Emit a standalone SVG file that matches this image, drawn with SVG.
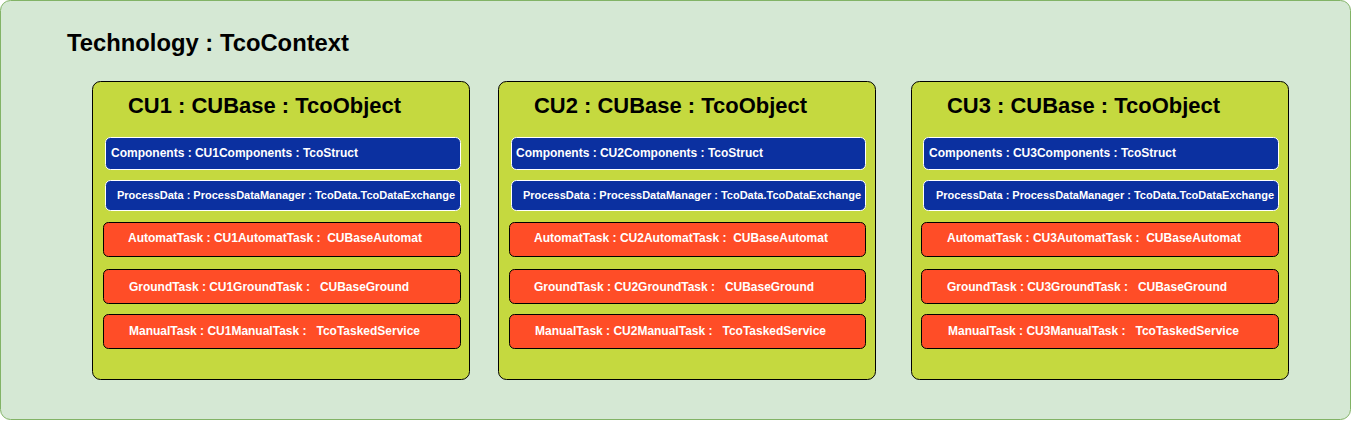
<svg xmlns="http://www.w3.org/2000/svg" width="1352" height="421" viewBox="0 0 1352 421">
<style>
text{font-family:"Liberation Sans",Arial,sans-serif;font-weight:bold;white-space:pre}
.outer{fill:#d5e8d4;stroke:#82b366;stroke-width:1}
.cu{fill:#c5d93f;stroke:#000;stroke-width:1}
.blue{fill:#0b30a0;stroke:#fff;stroke-width:1}
.red{fill:#ff4d27;stroke:#000;stroke-width:1}
.t1{font-size:24px;fill:#000}
.t2{font-size:22px;fill:#000}
.tb{font-size:12px;fill:#fff}
.tp{font-size:11px;fill:#fff}
.tr{font-size:12px;fill:#fff}
</style>
<g id="technology">
<rect class="outer" x="0.5" y="0.5" width="1350" height="419" rx="10"/>
<text class="t1" x="67" y="51" textLength="282" lengthAdjust="spacingAndGlyphs">Technology : TcoContext</text>
</g>
<g id="cu1">
<rect class="cu" x="92.5" y="81.5" width="377" height="298" rx="8"/>
<text class="t2" x="128" y="113" textLength="273" lengthAdjust="spacingAndGlyphs">CU1 : CUBase : TcoObject</text>
<g id="cu1-components"><rect class="blue" x="105.5" y="137.5" width="355" height="32" rx="5"/><text class="tb" x="111" y="157" textLength="247" lengthAdjust="spacingAndGlyphs">Components : CU1Components : TcoStruct</text></g>
<g id="cu1-processdata"><rect class="blue" x="105.5" y="180.5" width="355" height="30" rx="5"/><text class="tp" x="117" y="199" textLength="338" lengthAdjust="spacingAndGlyphs">ProcessData : ProcessDataManager : TcoData.TcoDataExchange</text></g>
<g id="cu1-automat"><rect class="red" x="103.5" y="222.5" width="357" height="34" rx="5"/><text class="tr" x="128" y="242" textLength="294" lengthAdjust="spacingAndGlyphs">AutomatTask : CU1AutomatTask :  CUBaseAutomat</text></g>
<g id="cu1-ground"><rect class="red" x="103.5" y="269.5" width="357" height="34" rx="5"/><text class="tr" x="129" y="291" textLength="280" lengthAdjust="spacingAndGlyphs">GroundTask : CU1GroundTask :   CUBaseGround</text></g>
<g id="cu1-manual"><rect class="red" x="103.5" y="314.5" width="357" height="34" rx="5"/><text class="tr" x="129" y="335" textLength="291" lengthAdjust="spacingAndGlyphs">ManualTask : CU1ManualTask :   TcoTaskedService</text></g>
</g>
<g id="cu2">
<rect class="cu" x="498.5" y="81.5" width="377" height="298" rx="8"/>
<text class="t2" x="534" y="113" textLength="273" lengthAdjust="spacingAndGlyphs">CU2 : CUBase : TcoObject</text>
<g id="cu2-components"><rect class="blue" x="511.5" y="137.5" width="354" height="32" rx="5"/><text class="tb" x="516" y="157" textLength="247" lengthAdjust="spacingAndGlyphs">Components : CU2Components : TcoStruct</text></g>
<g id="cu2-processdata"><rect class="blue" x="511.5" y="180.5" width="354" height="30" rx="5"/><text class="tp" x="523" y="199" textLength="338" lengthAdjust="spacingAndGlyphs">ProcessData : ProcessDataManager : TcoData.TcoDataExchange</text></g>
<g id="cu2-automat"><rect class="red" x="509.5" y="222.5" width="356" height="34" rx="5"/><text class="tr" x="534" y="242" textLength="294" lengthAdjust="spacingAndGlyphs">AutomatTask : CU2AutomatTask :  CUBaseAutomat</text></g>
<g id="cu2-ground"><rect class="red" x="509.5" y="269.5" width="356" height="34" rx="5"/><text class="tr" x="534" y="291" textLength="280" lengthAdjust="spacingAndGlyphs">GroundTask : CU2GroundTask :   CUBaseGround</text></g>
<g id="cu2-manual"><rect class="red" x="509.5" y="314.5" width="356" height="34" rx="5"/><text class="tr" x="535" y="335" textLength="291" lengthAdjust="spacingAndGlyphs">ManualTask : CU2ManualTask :   TcoTaskedService</text></g>
</g>
<g id="cu3">
<rect class="cu" x="911.5" y="81.5" width="377" height="298" rx="8"/>
<text class="t2" x="947" y="113" textLength="273" lengthAdjust="spacingAndGlyphs">CU3 : CUBase : TcoObject</text>
<g id="cu3-components"><rect class="blue" x="923.5" y="137.5" width="355" height="32" rx="5"/><text class="tb" x="929" y="157" textLength="247" lengthAdjust="spacingAndGlyphs">Components : CU3Components : TcoStruct</text></g>
<g id="cu3-processdata"><rect class="blue" x="923.5" y="180.5" width="355" height="30" rx="5"/><text class="tp" x="936" y="199" textLength="338" lengthAdjust="spacingAndGlyphs">ProcessData : ProcessDataManager : TcoData.TcoDataExchange</text></g>
<g id="cu3-automat"><rect class="red" x="921.5" y="222.5" width="357" height="34" rx="5"/><text class="tr" x="947" y="242" textLength="294" lengthAdjust="spacingAndGlyphs">AutomatTask : CU3AutomatTask :  CUBaseAutomat</text></g>
<g id="cu3-ground"><rect class="red" x="921.5" y="269.5" width="357" height="34" rx="5"/><text class="tr" x="947" y="291" textLength="280" lengthAdjust="spacingAndGlyphs">GroundTask : CU3GroundTask :   CUBaseGround</text></g>
<g id="cu3-manual"><rect class="red" x="921.5" y="314.5" width="357" height="34" rx="5"/><text class="tr" x="948" y="335" textLength="291" lengthAdjust="spacingAndGlyphs">ManualTask : CU3ManualTask :   TcoTaskedService</text></g>
</g>
<g id="connectors"/>
</svg>
